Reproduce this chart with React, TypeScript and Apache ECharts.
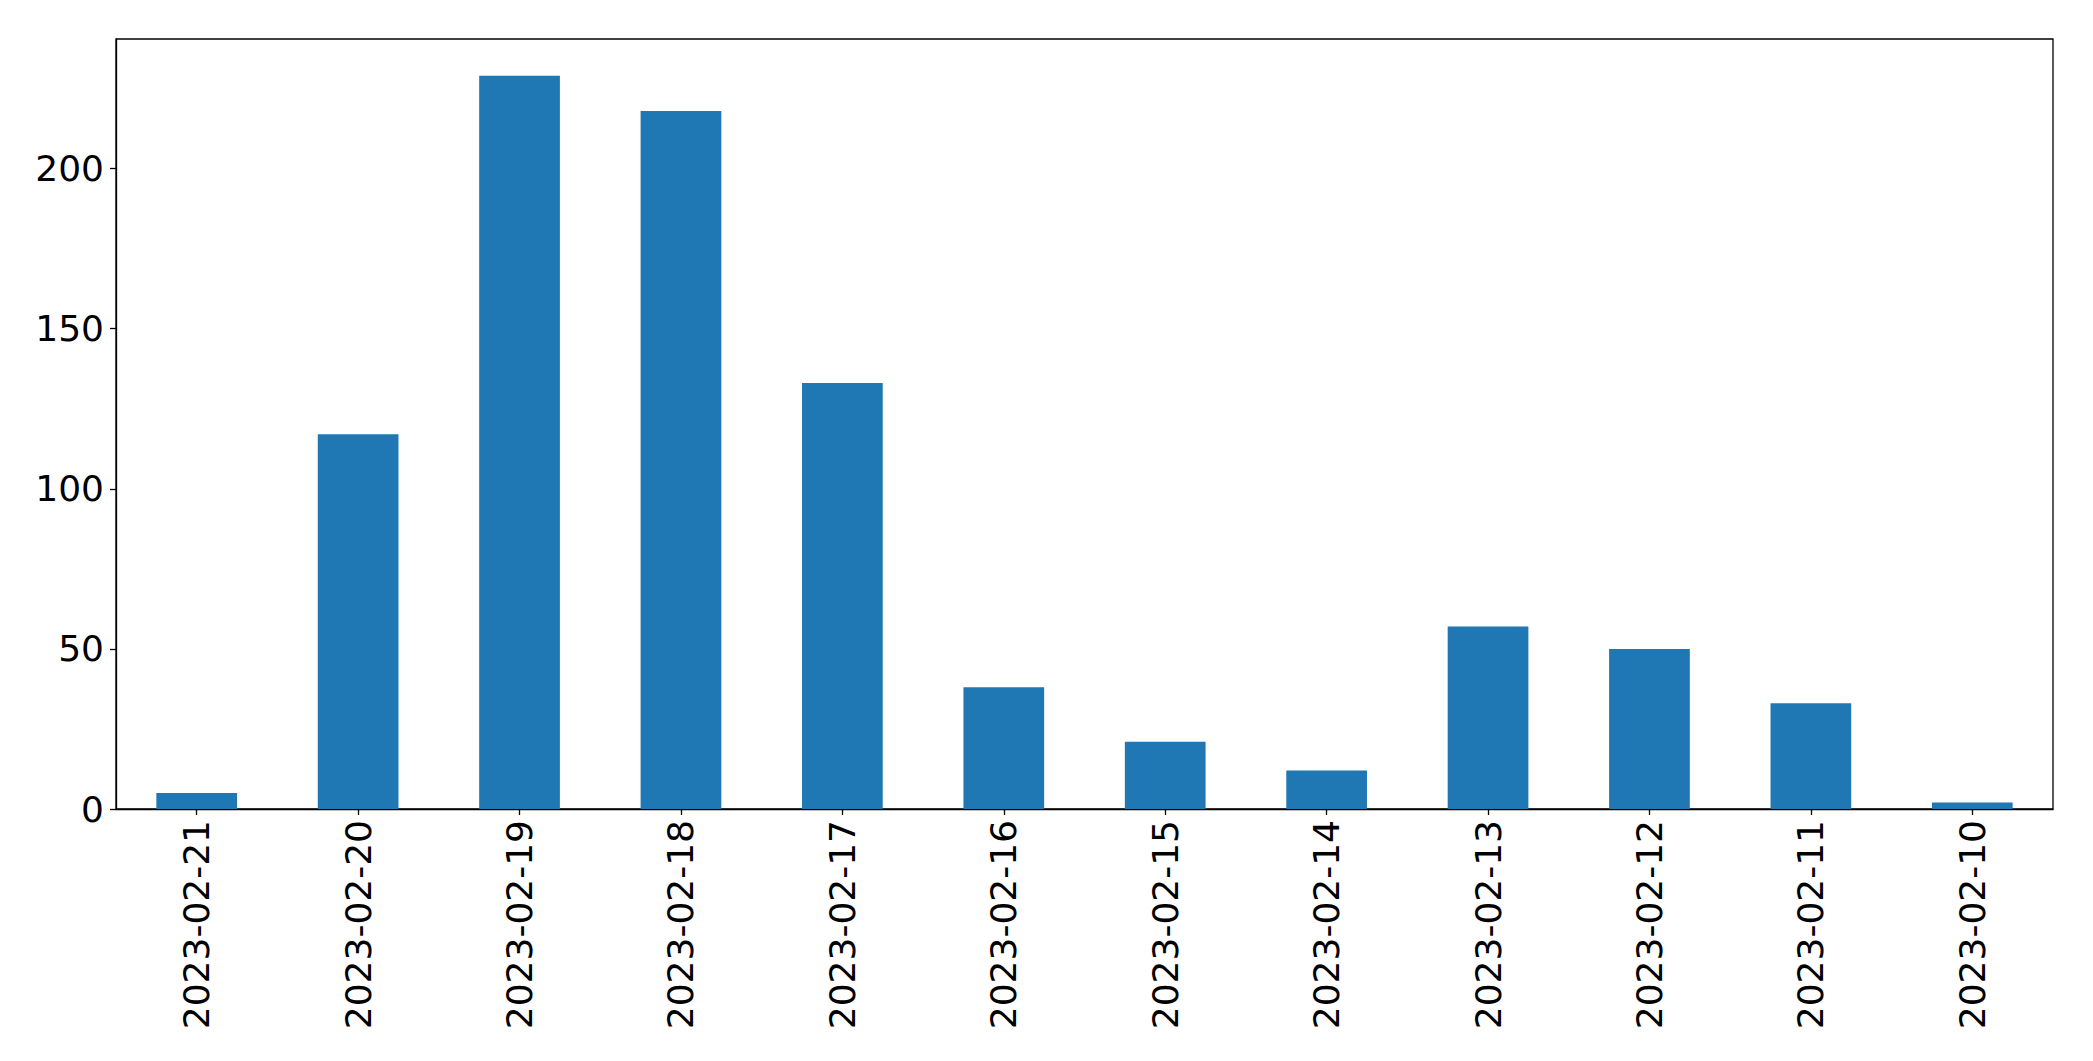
import React, { useEffect, useRef } from "react";
import * as echarts from "echarts";

const categories = [
  "2023-02-21", "2023-02-20", "2023-02-19", "2023-02-18", "2023-02-17", "2023-02-16",
  "2023-02-15", "2023-02-14", "2023-02-13", "2023-02-12", "2023-02-11", "2023-02-10",
];
const values = [5, 117, 229, 218, 133, 38, 21, 12, 57, 50, 33, 2];
const yTicks = [0, 50, 100, 150, 200];
const yMax = 240.45;

const FONT = "DejaVu Sans";

export default function App() {
  const ref = useRef<HTMLDivElement>(null);
  useEffect(() => {
    if (!ref.current) return;
    const chart = echarts.init(ref.current, undefined, { renderer: "svg" });
    chart.setOption({
      animation: false,
      backgroundColor: "#ffffff",
      grid: {
        left: 116,
        top: 39,
        right: 40,
        bottom: 252,
        show: true,
        borderColor: "#000000",
        borderWidth: 1.3,
        backgroundColor: "transparent",
      },
      xAxis: {
        type: "category",
        data: categories,
        boundaryGap: true,
        axisLine: { show: true, lineStyle: { color: "#000000", width: 1.3 } },
        axisTick: { show: true, alignWithLabel: true, length: 6, lineStyle: { color: "#000000", width: 1.3 } },
        axisLabel: {
          rotate: 90,
          interval: 0,
          margin: 11,
          fontFamily: FONT,
          fontSize: 36,
          color: "#000000",
        },
        splitLine: { show: false },
      },
      yAxis: {
        type: "value",
        min: 0,
        max: yMax,
        interval: 50,
        axisLine: { show: true, lineStyle: { color: "#000000", width: 1.3 } },
        axisTick: { show: true, length: 6, customValues: yTicks, lineStyle: { color: "#000000", width: 1.3 } },
        axisLabel: {
          margin: 12,
          fontFamily: FONT,
          fontSize: 36,
          color: "#000000",
          customValues: yTicks,
        },
        splitLine: { show: false },
      },
      series: [
        {
          type: "bar",
          data: values,
          barWidth: "50%",
          itemStyle: { color: "#1f77b4" },
        },
      ],
    });
    return () => chart.dispose();
  }, []);
  return (
    <div
      ref={ref}
      style={{ position: "fixed", left: 0, top: 0, width: 2093, height: 1061, background: "#fff" }}
    />
  );
}
